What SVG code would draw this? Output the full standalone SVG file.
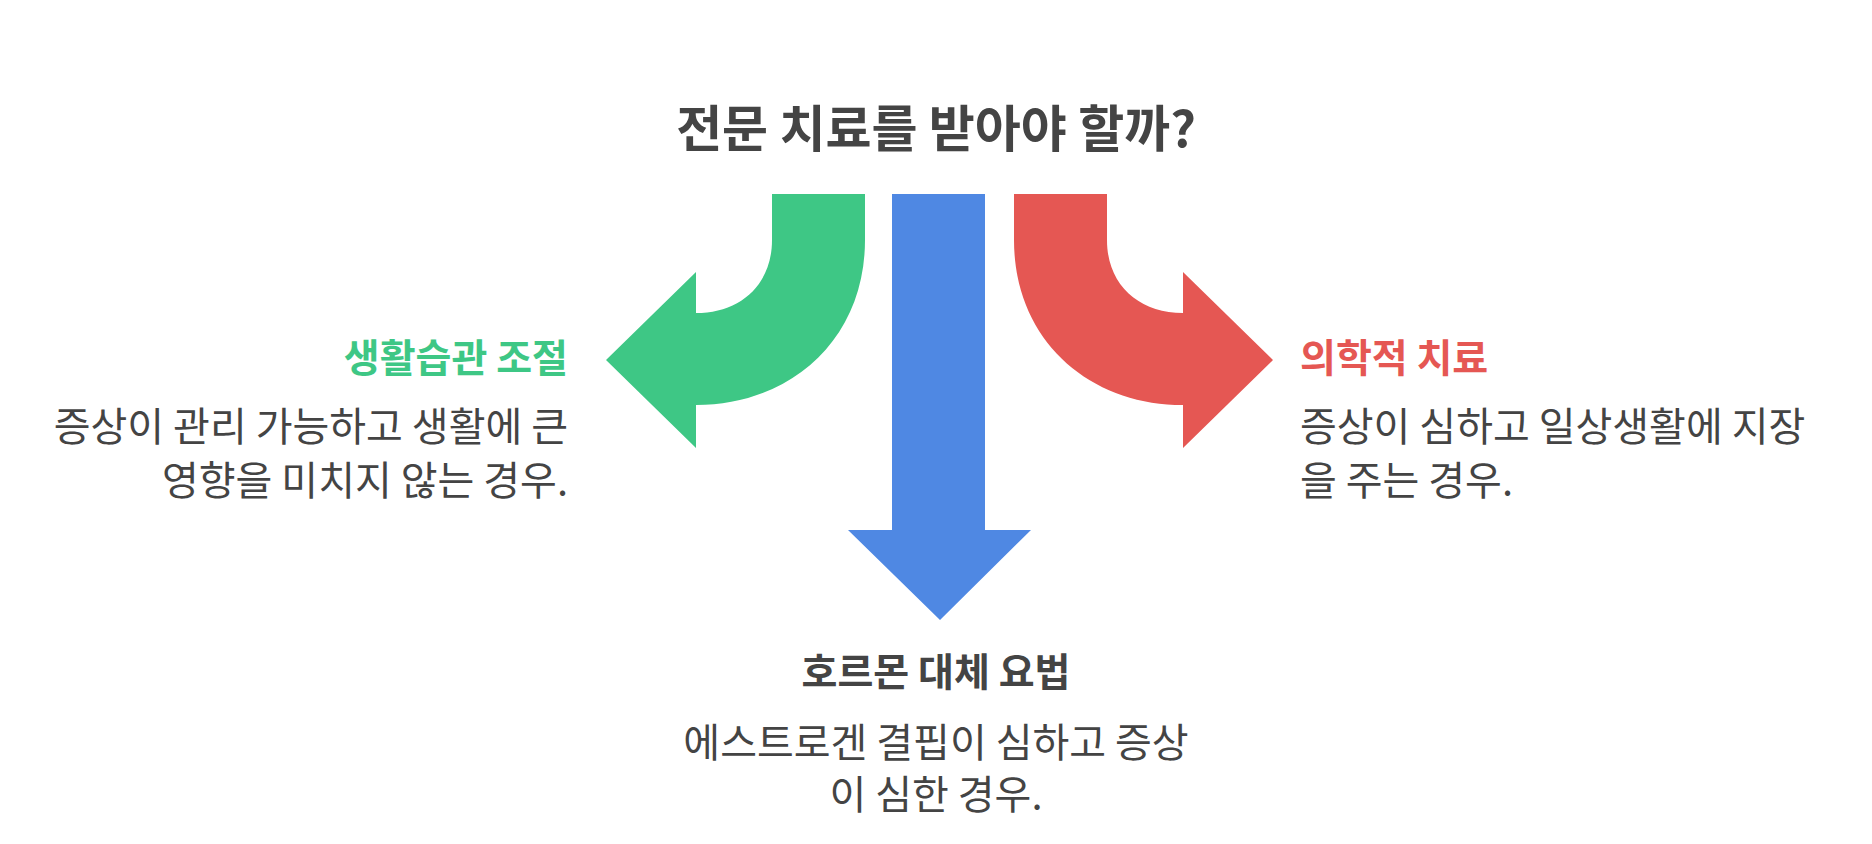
<svg xmlns="http://www.w3.org/2000/svg" width="1872" height="844" viewBox="0 0 1872 844">
<style>
text{font-family:"Noto Sans CJK KR","Noto Sans",sans-serif;fill:#444}
.t{font-size:50px;font-weight:700}
.h{font-size:39px;font-weight:700}
.b{font-size:40px}
</style>
<rect width="1872" height="844" fill="#fff"/>
<g id="connectors">
<path id="green" fill="#3EC785" d="M772 194H865V240C865 340 790 405 696 405V448L606 360L696 272V313C740 313 772 285 772 240Z"/>
<path id="blue" fill="#4F88E3" d="M892 194H985V530H1031L940 620L848 530H892Z"/>
<path id="red" fill="#E55753" d="M1107 194H1014V240C1014 340 1089 405 1183 405V448L1273 360L1183 272V313C1139 313 1107 285 1107 240Z"/>
</g>
<g id="title"><text class="t" x="936" y="147" text-anchor="middle">전문 치료를 받아야 할까?</text></g>
<g id="left">
<text class="h" x="568" y="372" text-anchor="end" style="fill:#3EC785">생활습관 조절</text>
<text class="b" x="568" y="441" text-anchor="end">증상이 관리 가능하고 생활에 큰</text>
<text class="b" x="568" y="495" text-anchor="end">영향을 미치지 않는 경우.</text>
</g>
<g id="right">
<text class="h" x="1300" y="372" style="fill:#E55753">의학적 치료</text>
<text class="b" x="1300" y="441">증상이 심하고 일상생활에 지장</text>
<text class="b" x="1300" y="495">을 주는 경우.</text>
</g>
<g id="bottom">
<text class="h" x="936" y="686" text-anchor="middle">호르몬 대체 요법</text>
<text class="b" x="936" y="757" text-anchor="middle">에스트로겐 결핍이 심하고 증상</text>
<text class="b" x="936" y="809" text-anchor="middle">이 심한 경우.</text>
</g>
</svg>
